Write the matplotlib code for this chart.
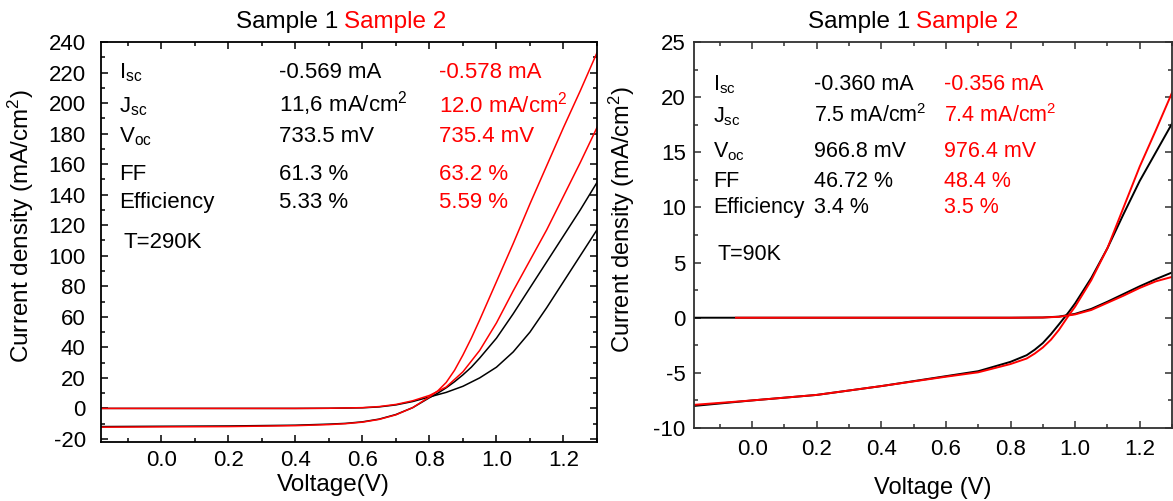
import matplotlib
matplotlib.use("Agg")
import matplotlib.pyplot as plt
from matplotlib.ticker import MultipleLocator

plt.rcParams['font.family'] = ['Liberation Sans', 'DejaVu Sans']
plt.rcParams['mathtext.default'] = 'regular'
plt.rcParams['axes.unicode_minus'] = False

RED = '#ff0000'

# ---- T = 290 K ----
v_290_light = [-0.18, 0.0, 0.2, 0.4, 0.5, 0.55, 0.6, 0.65, 0.7, 0.75, 0.8, 0.825, 0.85, 0.875,
               0.9, 0.925, 0.95, 1.0, 1.05, 1.1, 1.15, 1.2, 1.25, 1.3]
s1_290_light = [-11.9, -11.7, -11.5, -11.0, -10.3, -9.8, -8.8, -7.0, -4.0, 0.5, 7.0, 10.0, 13.5, 17.5,
                22, 27, 33, 46, 62, 79, 96, 113, 130, 148]
s2_290_light = [-12.3, -12.1, -11.9, -11.3, -10.6, -10.0, -9.0, -7.2, -4.2, 0.5, 7.5, 11.5, 17, 25,
                35, 46, 58, 83, 108, 134, 159, 184, 208, 233]

v_290_dark = [-0.18, 0.0, 0.2, 0.4, 0.5, 0.6, 0.65, 0.7, 0.75, 0.8, 0.85, 0.9, 0.95, 1.0,
              1.05, 1.1, 1.15, 1.2, 1.25, 1.3]
s1_290_dark = [0, 0, 0, 0, 0.1, 0.4, 1.0, 2.3, 4.5, 7.5, 10.5, 14.5, 20, 27,
               37, 50, 66, 83, 100, 117]
s2_290_dark = [0, 0, 0, 0, 0.1, 0.5, 1.2, 2.6, 5, 8.5, 14, 24, 38, 56,
               77, 97, 117, 139, 161, 184]

# ---- T = 90 K ----
v_90_light = [-0.18, 0.0, 0.2, 0.4, 0.6, 0.7, 0.8, 0.85, 0.875, 0.9, 0.925, 0.95, 0.98, 1.0,
              1.05, 1.1, 1.15, 1.2, 1.25, 1.3]
s1_90_light = [-8.0, -7.5, -7.0, -6.2, -5.3, -4.85, -4.0, -3.4, -2.9, -2.3, -1.5, -0.6, 0.5, 1.3,
               3.6, 6.3, 9.4, 12.4, 15.0, 17.6]
s2_90_light = [-7.9, -7.5, -7.0, -6.2, -5.35, -4.95, -4.2, -3.7, -3.25, -2.7, -2.0, -1.1, 0.2, 1.0,
               3.4, 6.3, 10.0, 13.7, 17.0, 20.4]

v_90_dark1 = [-0.18, 0.0, 0.4, 0.8, 0.9, 0.95, 1.0, 1.05, 1.1, 1.15, 1.2, 1.25, 1.3]
s1_90_dark = [0, 0, 0, 0, 0.02, 0.1, 0.35, 0.8, 1.45, 2.15, 2.85, 3.5, 4.1]
v_90_dark2 = [-0.05, 0.0, 0.4, 0.8, 0.9, 0.95, 1.0, 1.05, 1.1, 1.15, 1.2, 1.25, 1.3]
s2_90_dark = [0, 0, 0, 0, 0.02, 0.08, 0.3, 0.7, 1.35, 2.0, 2.7, 3.3, 3.7]

# ---- parameter tables ----
row_labels = ['$\\mathregular{I_{sc}}$', '$\\mathregular{J_{sc}}$', '$\\mathregular{V_{oc}}$',
              'FF', 'Efficiency']
s1_290_params = ['-0.569 mA', '11,6 mA/cm$\\mathregular{^2}$', '733.5 mV', '61.3 %', '5.33 %']
s2_290_params = ['-0.578 mA', '12.0 mA/cm$\\mathregular{^2}$', '735.4 mV', '63.2 %', '5.59 %']
s1_90_params = ['-0.360 mA', '7.5 mA/cm$\\mathregular{^2}$', '966.8 mV', '46.72 %', '3.4 %']
s2_90_params = ['-0.356 mA', '7.4 mA/cm$\\mathregular{^2}$', '976.4 mV', '48.4 %', '3.5 %']

W, H = 1173, 501
fig = plt.figure(figsize=(W / 100, H / 100), dpi=100)


def px_axes(x0, y0, x1, y1):
    return fig.add_axes([x0 / W, 1 - y1 / H, (x1 - x0) / W, (y1 - y0) / H])


def style(ax, spine_color, fs, ypad, xpad):
    for s in ax.spines.values():
        s.set_color(spine_color)
        s.set_linewidth(1.3)
    ax.tick_params(which='both', direction='in', top=True, right=True,
                   color=spine_color, width=1.1, labelsize=fs)
    ax.tick_params(which='major', length=5)
    ax.tick_params(which='minor', length=2.8)
    ax.tick_params(axis='y', pad=ypad)
    ax.tick_params(axis='x', pad=xpad)
    ax.xaxis.set_major_locator(MultipleLocator(0.2))
    ax.xaxis.set_minor_locator(MultipleLocator(0.1))
    ax.xaxis.set_major_formatter(lambda v, p: f'{v:.1f}')


def table(ax, box, cols, baselines, p1, p2, temp, temp_xy, fs):
    x0, y0, x1, y1 = box

    def tx(px, py, s, c='black'):
        ax.text((px - x0) / (x1 - x0), (y1 - py) / (y1 - y0), s, color=c,
                transform=ax.transAxes, fontsize=fs, va='baseline', ha='left')

    for i in range(5):
        tx(cols[0], baselines[i], row_labels[i])
        tx(cols[1], baselines[i], p1[i])
        tx(cols[2], baselines[i], p2[i], RED)
    tx(temp_xy[0], temp_xy[1], temp)


# left panel
box_l = (101, 42, 597, 442)
ax1 = px_axes(*box_l)
ax1.plot(v_290_dark, s1_290_dark, color='black', lw=1.1)
ax1.plot(v_290_light, s1_290_light, color='black', lw=1.1)
ax1.plot(v_290_dark, s2_290_dark, color=RED, lw=1.1)
ax1.plot(v_290_light, s2_290_light, color=RED, lw=1.1)
ax1.set_xlim(-0.18, 1.30)
ax1.set_ylim(-22, 240)
style(ax1, 'black', 16, 11, 6)
ax1.yaxis.set_major_locator(MultipleLocator(20))
ax1.yaxis.set_minor_locator(MultipleLocator(10))
ax1.set_ylabel('Current density (mA/cm$\\mathregular{^2}$)', fontsize=17.5)
ax1.yaxis.set_label_coords(-0.132, 0.54)
ax1.set_xlabel('Voltage(V)', fontsize=17.5)
ax1.xaxis.set_label_coords(0.468, -0.08)
table(ax1, box_l, (119, 279, 439), (78, 112, 142, 180, 208),
      s1_290_params, s2_290_params, 'T=290K', (124, 248), 16)

# right panel
box_r = (694, 42, 1172, 428)
ax2 = px_axes(*box_r)
ax2.plot(v_90_dark1, s1_90_dark, color='black', lw=1.4)
ax2.plot(v_90_light, s1_90_light, color='black', lw=1.4)
ax2.plot(v_90_dark2, s2_90_dark, color=RED, lw=1.4)
ax2.plot(v_90_light, s2_90_light, color=RED, lw=1.4)
ax2.set_xlim(-0.18, 1.30)
ax2.set_ylim(-10, 25)
style(ax2, '#303030', 16, 6, 8)
ax2.yaxis.set_major_locator(MultipleLocator(5))
ax2.yaxis.set_minor_locator(MultipleLocator(2.5))
ax2.set_ylabel('Current density (mA/cm$\\mathregular{^2}$)', fontsize=17)
ax2.yaxis.set_label_coords(-0.120, 0.54)
ax2.set_xlabel('Voltage (V)', fontsize=17)
ax2.xaxis.set_label_coords(0.5, -0.127)
table(ax2, box_r, (713, 814, 944), (90, 122, 157, 187, 213),
      s1_90_params, s2_90_params, 'T=90K', (717, 260), 15.5)

# two-coloured titles
for x, y in [(236, 28), (808, 28)]:
    t1 = fig.text(x / W, 1 - y / H, 'Sample 1', fontsize=17.5, color='black', va='baseline')
    fig.canvas.draw()
    bb = t1.get_window_extent()
    fig.text((bb.x1 + 6) / W, 1 - y / H, 'Sample 2', fontsize=17.5, color=RED, va='baseline')

fig.savefig('out.png', dpi=100)
